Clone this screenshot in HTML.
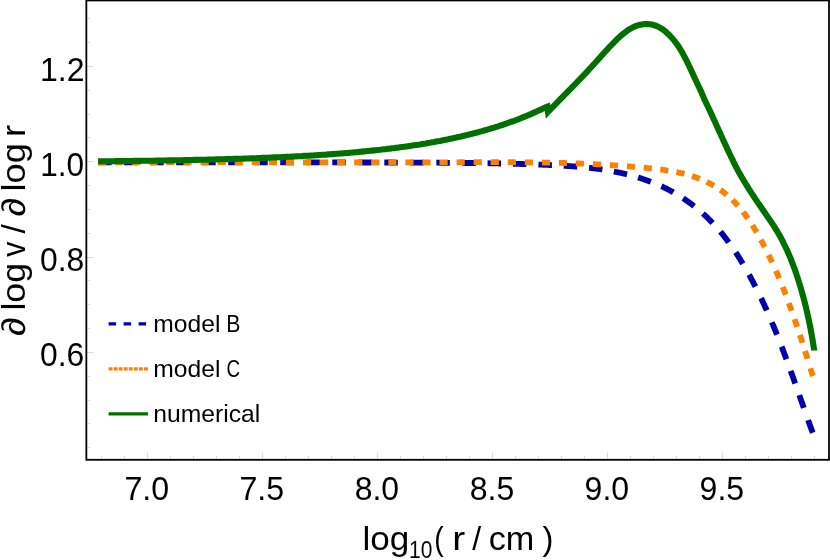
<!DOCTYPE html>
<html><head><meta charset="utf-8"><title>plot</title>
<style>
html,body{margin:0;padding:0;background:#fff;}
body{width:830px;height:560px;overflow:hidden;font-family:"Liberation Sans", sans-serif;}
svg{display:block;will-change:transform;}
text{font-family:"Liberation Sans", sans-serif;fill:#000;font-kerning:none;}
</style></head><body>
<svg width="830" height="560" viewBox="0 0 830 560">
<rect x="0" y="0" width="830" height="560" fill="#fff"/>
<g stroke="#c8c8c8" stroke-width="0.7" fill="none">
<line x1="101.5" y1="458.9" x2="101.5" y2="456.1"/>
<line x1="124.5" y1="458.9" x2="124.5" y2="456.1"/>
<line x1="147.5" y1="458.9" x2="147.5" y2="452.8"/>
<line x1="170.5" y1="458.9" x2="170.5" y2="456.1"/>
<line x1="193.5" y1="458.9" x2="193.5" y2="456.1"/>
<line x1="216.5" y1="458.9" x2="216.5" y2="456.1"/>
<line x1="239.5" y1="458.9" x2="239.5" y2="456.1"/>
<line x1="262.5" y1="458.9" x2="262.5" y2="452.8"/>
<line x1="285.5" y1="458.9" x2="285.5" y2="456.1"/>
<line x1="308.5" y1="458.9" x2="308.5" y2="456.1"/>
<line x1="331.5" y1="458.9" x2="331.5" y2="456.1"/>
<line x1="354.5" y1="458.9" x2="354.5" y2="456.1"/>
<line x1="377.5" y1="458.9" x2="377.5" y2="452.8"/>
<line x1="400.5" y1="458.9" x2="400.5" y2="456.1"/>
<line x1="423.5" y1="458.9" x2="423.5" y2="456.1"/>
<line x1="446.5" y1="458.9" x2="446.5" y2="456.1"/>
<line x1="469.5" y1="458.9" x2="469.5" y2="456.1"/>
<line x1="492.5" y1="458.9" x2="492.5" y2="452.8"/>
<line x1="515.5" y1="458.9" x2="515.5" y2="456.1"/>
<line x1="538.5" y1="458.9" x2="538.5" y2="456.1"/>
<line x1="561.5" y1="458.9" x2="561.5" y2="456.1"/>
<line x1="584.5" y1="458.9" x2="584.5" y2="456.1"/>
<line x1="607.5" y1="458.9" x2="607.5" y2="452.8"/>
<line x1="630.5" y1="458.9" x2="630.5" y2="456.1"/>
<line x1="653.5" y1="458.9" x2="653.5" y2="456.1"/>
<line x1="676.5" y1="458.9" x2="676.5" y2="456.1"/>
<line x1="699.5" y1="458.9" x2="699.5" y2="456.1"/>
<line x1="722.5" y1="458.9" x2="722.5" y2="452.8"/>
<line x1="745.5" y1="458.9" x2="745.5" y2="456.1"/>
<line x1="768.5" y1="458.9" x2="768.5" y2="456.1"/>
<line x1="791.5" y1="458.9" x2="791.5" y2="456.1"/>
<line x1="814.5" y1="458.9" x2="814.5" y2="456.1"/>
<line x1="87.2" y1="447.5" x2="90.0" y2="447.5"/>
<line x1="87.2" y1="423.5" x2="90.0" y2="423.5"/>
<line x1="87.2" y1="400.5" x2="90.0" y2="400.5"/>
<line x1="87.2" y1="376.5" x2="90.0" y2="376.5"/>
<line x1="87.2" y1="352.5" x2="93.7" y2="352.5"/>
<line x1="87.2" y1="328.5" x2="90.0" y2="328.5"/>
<line x1="87.2" y1="304.5" x2="90.0" y2="304.5"/>
<line x1="87.2" y1="280.5" x2="90.0" y2="280.5"/>
<line x1="87.2" y1="257.5" x2="93.7" y2="257.5"/>
<line x1="87.2" y1="233.5" x2="90.0" y2="233.5"/>
<line x1="87.2" y1="209.5" x2="90.0" y2="209.5"/>
<line x1="87.2" y1="185.5" x2="90.0" y2="185.5"/>
<line x1="87.2" y1="161.5" x2="93.7" y2="161.5"/>
<line x1="87.2" y1="137.5" x2="90.0" y2="137.5"/>
<line x1="87.2" y1="114.5" x2="90.0" y2="114.5"/>
<line x1="87.2" y1="90.5" x2="90.0" y2="90.5"/>
<line x1="87.2" y1="66.5" x2="93.7" y2="66.5"/>
<line x1="87.2" y1="42.5" x2="90.0" y2="42.5"/>
<line x1="87.2" y1="18.5" x2="90.0" y2="18.5"/>
</g>
<g fill="none" stroke-linecap="butt">
<path d="M98.1,162.3 L99.6,162.3 L101.1,162.3 L102.6,162.3 L104.1,162.3 L105.6,162.3 L107.1,162.3 L108.6,162.3 L110.1,162.3 L111.6,162.3 L113.1,162.3 L114.6,162.3 L116.1,162.3 L117.6,162.3 L119.1,162.3 L120.6,162.3 L122.1,162.3 L123.6,162.3 L125.1,162.3 L126.6,162.3 L128.1,162.3 L129.6,162.3 L131.1,162.3 L132.6,162.3 L134.1,162.3 L135.6,162.3 L137.1,162.3 L138.6,162.3 L140.1,162.3 L141.6,162.3 L143.1,162.3 L144.6,162.3 L146.1,162.3 L147.6,162.3 L149.1,162.3 L150.6,162.3 L152.1,162.3 L153.6,162.3 L155.1,162.3 L156.6,162.3 L158.1,162.3 L159.6,162.3 L161.1,162.3 L162.6,162.3 L164.1,162.3 L165.6,162.3 L167.1,162.3 L168.6,162.3 L170.1,162.3 L171.6,162.3 L173.1,162.3 L174.6,162.3 L176.1,162.3 L177.6,162.3 L179.1,162.3 L180.6,162.3 L182.1,162.3 L183.6,162.3 L185.1,162.3 L186.6,162.3 L188.1,162.3 L189.6,162.3 L191.1,162.3 L192.6,162.3 L194.1,162.3 L195.6,162.3 L197.1,162.3 L198.6,162.3 L200.1,162.3 L201.6,162.3 L203.1,162.3 L204.6,162.3 L206.1,162.3 L207.6,162.3 L209.1,162.3 L210.6,162.3 L212.1,162.3 L213.6,162.3 L215.1,162.3 L216.6,162.3 L218.1,162.3 L219.6,162.3 L221.1,162.3 L222.6,162.3 L224.1,162.3 L225.6,162.3 L227.1,162.3 L228.6,162.3 L230.1,162.3 L231.6,162.3 L233.1,162.3 L234.6,162.3 L236.1,162.3 L237.6,162.3 L239.1,162.3 L240.6,162.3 L242.1,162.3 L243.6,162.3 L245.1,162.3 L246.6,162.3 L248.1,162.3 L249.6,162.3 L251.1,162.3 L252.6,162.3 L254.1,162.3 L255.6,162.3 L257.1,162.3 L258.6,162.3 L260.1,162.3 L261.6,162.3 L263.1,162.3 L264.6,162.3 L266.1,162.3 L267.6,162.3 L269.1,162.3 L270.6,162.3 L272.1,162.3 L273.6,162.3 L275.1,162.3 L276.6,162.3 L278.1,162.3 L279.6,162.3 L281.1,162.3 L282.6,162.3 L284.1,162.3 L285.6,162.3 L287.1,162.3 L288.6,162.3 L290.1,162.3 L291.6,162.3 L293.1,162.3 L294.6,162.3 L296.1,162.3 L297.6,162.3 L299.1,162.3 L300.6,162.3 L302.1,162.3 L303.6,162.3 L305.1,162.3 L306.6,162.3 L308.1,162.3 L309.6,162.4 L311.1,162.4 L312.6,162.4 L314.1,162.4 L315.6,162.4 L317.1,162.4 L318.6,162.4 L320.1,162.4 L321.6,162.4 L323.1,162.4 L324.6,162.4 L326.1,162.4 L327.6,162.4 L329.1,162.4 L330.6,162.4 L332.1,162.4 L333.6,162.4 L335.1,162.4 L336.6,162.4 L338.1,162.4 L339.6,162.4 L341.1,162.4 L342.6,162.4 L344.1,162.4 L345.6,162.4 L347.1,162.4 L348.6,162.4 L350.1,162.4 L351.6,162.4 L353.1,162.4 L354.6,162.4 L356.1,162.4 L357.6,162.4 L359.1,162.4 L360.6,162.4 L362.1,162.4 L363.6,162.5 L365.1,162.5 L366.6,162.5 L368.1,162.5 L369.6,162.5 L371.1,162.5 L372.6,162.5 L374.1,162.5 L375.6,162.5 L377.1,162.5 L378.6,162.5 L380.1,162.5 L381.6,162.5 L383.1,162.5 L384.6,162.5 L386.1,162.5 L387.6,162.5 L389.1,162.5 L390.6,162.5 L392.1,162.5 L393.6,162.5 L395.1,162.6 L396.6,162.6 L398.1,162.6 L399.6,162.6 L401.1,162.6 L402.6,162.6 L404.1,162.6 L405.6,162.6 L407.1,162.6 L408.6,162.6 L410.1,162.6 L411.6,162.6 L413.1,162.6 L414.6,162.6 L416.1,162.6 L417.6,162.6 L419.1,162.6 L420.6,162.7 L422.1,162.7 L423.6,162.7 L425.1,162.7 L426.6,162.7 L428.1,162.7 L429.6,162.7 L431.1,162.7 L432.6,162.7 L434.1,162.7 L435.6,162.7 L437.1,162.7 L438.6,162.7 L440.1,162.8 L441.6,162.8 L443.1,162.8 L444.6,162.8 L446.1,162.8 L447.6,162.8 L449.1,162.8 L450.6,162.8 L452.1,162.8 L453.6,162.8 L455.1,162.9 L456.6,162.9 L458.1,162.9 L459.6,162.9 L461.0,162.9 L462.5,162.9 L464.0,162.9 L465.5,163.0 L467.0,163.0 L468.5,163.0 L470.0,163.0 L471.5,163.0 L473.0,163.0 L474.5,163.1 L476.0,163.1 L477.5,163.1 L479.0,163.1 L480.5,163.1 L482.0,163.2 L483.5,163.2 L485.0,163.2 L486.5,163.2 L488.0,163.2 L489.5,163.3 L491.0,163.3 L492.5,163.3 L494.0,163.4 L495.5,163.4 L497.0,163.4 L498.5,163.4 L500.0,163.5 L501.5,163.5 L503.0,163.5 L504.5,163.6 L506.0,163.6 L507.5,163.6 L509.0,163.7 L510.5,163.7 L512.0,163.7 L513.5,163.8 L515.0,163.8 L516.5,163.9 L518.0,163.9 L519.5,163.9 L521.0,164.0 L522.5,164.0 L524.0,164.1 L525.5,164.1 L527.0,164.2 L528.5,164.2 L530.0,164.3 L531.5,164.3 L533.0,164.4 L534.5,164.4 L536.0,164.5 L537.5,164.5 L539.0,164.6 L540.5,164.6 L542.0,164.7 L543.5,164.8 L545.0,164.8 L546.5,164.9 L548.1,164.9 L549.6,165.0 L551.1,165.1 L552.6,165.1 L554.1,165.2 L555.6,165.3 L557.1,165.4 L558.6,165.4 L560.1,165.5 L561.6,165.6 L563.1,165.7 L564.6,165.8 L566.1,165.9 L567.6,166.0 L569.1,166.1 L570.6,166.2 L572.1,166.3 L573.6,166.4 L575.1,166.5 L576.6,166.6 L578.1,166.7 L579.6,166.9 L581.1,167.0 L582.6,167.1 L584.1,167.3 L585.6,167.4 L587.1,167.6 L588.6,167.8 L590.1,167.9 L591.6,168.1 L593.0,168.3 L594.5,168.4 L596.0,168.6 L597.5,168.8 L599.0,169.0 L600.5,169.2 L602.0,169.5 L603.5,169.7 L604.9,169.9 L606.4,170.2 L607.9,170.4 L609.4,170.7 L610.9,170.9 L612.3,171.2 L613.8,171.5 L615.3,171.8 L616.8,172.0 L618.2,172.4 L619.7,172.7 L621.2,173.0 L622.6,173.3 L624.1,173.7 L625.5,174.0 L627.0,174.4 L628.5,174.7 L629.9,175.1 L631.4,175.5 L632.8,175.9 L634.3,176.3 L635.7,176.7 L637.1,177.1 L638.6,177.6 L640.0,178.0 L641.4,178.5 L642.9,179.0 L644.3,179.4 L645.7,179.9 L647.1,180.4 L648.5,180.9 L649.9,181.5 L651.3,182.0 L652.7,182.5 L654.1,183.1 L655.5,183.7 L656.9,184.2 L658.3,184.8 L659.6,185.4 L661.0,186.1 L662.4,186.7 L663.7,187.3 L665.1,188.0 L666.4,188.6 L667.7,189.3 L669.1,190.0 L670.4,190.7 L671.7,191.4 L673.0,192.1 L674.3,192.9 L675.6,193.6 L676.9,194.4 L678.2,195.1 L679.5,195.9 L680.7,196.7 L682.0,197.5 L683.2,198.3 L684.5,199.2 L685.7,200.0 L686.9,200.8 L688.2,201.7 L689.4,202.6 L690.6,203.5 L691.8,204.4 L693.0,205.3 L694.1,206.2 L695.3,207.1 L696.5,208.0 L697.6,209.0 L698.8,209.9 L699.9,210.9 L701.1,211.9 L702.2,212.9 L703.3,213.9 L704.4,214.9 L705.5,215.9 L706.6,216.9 L707.7,218.0 L708.7,219.0 L709.8,220.1 L710.8,221.1 L711.9,222.2 L712.9,223.3 L713.9,224.4 L714.9,225.5 L715.9,226.6 L716.9,227.7 L717.9,228.8 L718.9,229.9 L719.9,231.1 L720.8,232.2 L721.8,233.4 L722.7,234.5 L723.7,235.7 L724.6,236.9 L725.5,238.1 L726.4,239.3 L727.3,240.5 L728.2,241.7 L729.1,242.9 L730.0,244.1 L730.9,245.3 L731.7,246.5 L732.6,247.8 L733.5,249.0 L734.3,250.2 L735.1,251.5 L736.0,252.8 L736.8,254.0 L737.6,255.3 L738.4,256.6 L739.2,257.8 L740.0,259.1 L740.8,260.4 L741.6,261.7 L742.4,263.0 L743.2,264.3 L743.9,265.6 L744.7,266.9 L745.5,268.2 L746.2,269.5 L747.0,270.8 L747.7,272.1 L748.4,273.4 L749.2,274.8 L749.9,276.1 L750.6,277.4 L751.3,278.7 L752.0,280.1 L752.7,281.4 L753.4,282.7 L754.1,284.1 L754.8,285.4 L755.5,286.8 L756.2,288.1 L756.9,289.4 L757.5,290.8 L758.2,292.1 L758.9,293.5 L759.5,294.8 L760.2,296.2 L760.8,297.5 L761.5,298.9 L762.1,300.3 L762.7,301.6 L763.4,303.0 L764.0,304.3 L764.6,305.7 L765.2,307.1 L765.9,308.4 L766.5,309.8 L767.1,311.2 L767.7,312.5 L768.3,313.9 L768.9,315.3 L769.5,316.7 L770.1,318.0 L770.7,319.4 L771.3,320.8 L771.9,322.2 L772.4,323.6 L773.0,324.9 L773.6,326.3 L774.2,327.7 L774.7,329.1 L775.3,330.5 L775.9,331.9 L776.4,333.3 L777.0,334.7 L777.5,336.0 L778.1,337.4 L778.6,338.8 L779.2,340.2 L779.7,341.6 L780.3,343.0 L780.8,344.4 L781.3,345.8 L781.9,347.2 L782.4,348.6 L782.9,350.0 L783.5,351.4 L784.0,352.8 L784.5,354.2 L785.1,355.6 L785.6,357.0 L786.1,358.4 L786.6,359.8 L787.1,361.2 L787.7,362.6 L788.2,364.1 L788.7,365.5 L789.2,366.9 L789.7,368.3 L790.2,369.7 L790.7,371.1 L791.2,372.5 L791.7,373.9 L792.3,375.3 L792.8,376.7 L793.3,378.2 L793.8,379.6 L794.3,381.0 L794.8,382.4 L795.3,383.8 L795.8,385.2 L796.3,386.6 L796.8,388.0 L797.3,389.5 L797.8,390.9 L798.3,392.3 L798.8,393.7 L799.3,395.1 L799.8,396.5 L800.3,397.9 L800.8,399.4 L801.3,400.8 L801.8,402.2 L802.3,403.6 L802.8,405.0 L803.3,406.4 L803.8,407.8 L804.3,409.3 L804.8,410.7 L805.3,412.1 L805.8,413.5 L806.3,414.9 L806.8,416.3 L807.3,417.7 L807.8,419.2 L808.3,420.6 L808.8,422.0 L809.3,423.4 L809.8,424.8 L810.3,426.2 L810.8,427.6 L811.3,429.0 L811.9,430.4 L812.4,431.9 L812.9,433.3 L812.9,433.4" stroke="#0000aa" stroke-width="5.8" stroke-dasharray="13.50 12.52 13.50 12.52 13.50 12.52 13.50 12.52 13.50 12.52 13.50 12.52 13.50 12.52 13.50 12.52 13.50 12.52 13.50 12.52 13.50 12.52 13.50 12.52 13.50 12.52 13.50 12.52 13.50 11.73 13.50 11.95 13.50 11.94 13.50 11.90 13.50 11.80 13.50 11.65 13.50 11.50 13.50 11.39 13.50 11.38 13.50 11.52 13.50 11.80 13.50 12.17 13.50 12.56 13.50 12.84 13.50 12.92 13.50 12.75 13.50 12.41 13.50 12.26 13.50 13.01 13.50 9999.00" stroke-dashoffset="0" stroke-linejoin="round"/>
<path d="M98.1,162.3 L99.6,162.3 L101.1,162.3 L102.6,162.3 L104.1,162.3 L105.6,162.3 L107.1,162.3 L108.6,162.3 L110.1,162.3 L111.6,162.3 L113.1,162.3 L114.6,162.3 L116.1,162.3 L117.6,162.3 L119.1,162.3 L120.6,162.3 L122.1,162.2 L123.6,162.2 L125.1,162.2 L126.6,162.2 L128.1,162.2 L129.6,162.2 L131.1,162.2 L132.6,162.2 L134.1,162.2 L135.6,162.2 L137.1,162.2 L138.6,162.2 L140.1,162.2 L141.6,162.2 L143.1,162.2 L144.6,162.2 L146.1,162.2 L147.6,162.2 L149.1,162.2 L150.6,162.2 L152.1,162.2 L153.6,162.2 L155.1,162.2 L156.6,162.2 L158.1,162.2 L159.6,162.2 L161.1,162.2 L162.6,162.2 L164.1,162.2 L165.6,162.2 L167.1,162.2 L168.6,162.2 L170.1,162.2 L171.6,162.2 L173.1,162.2 L174.6,162.2 L176.1,162.2 L177.6,162.2 L179.1,162.2 L180.6,162.2 L182.1,162.2 L183.6,162.2 L185.1,162.2 L186.6,162.2 L188.1,162.2 L189.6,162.2 L191.1,162.2 L192.6,162.2 L194.1,162.2 L195.6,162.2 L197.1,162.2 L198.6,162.2 L200.1,162.2 L201.6,162.2 L203.1,162.2 L204.6,162.2 L206.1,162.2 L207.6,162.2 L209.1,162.2 L210.6,162.2 L212.1,162.2 L213.6,162.2 L215.1,162.2 L216.6,162.2 L218.1,162.2 L219.6,162.2 L221.1,162.2 L222.6,162.2 L224.1,162.2 L225.6,162.2 L227.1,162.2 L228.6,162.2 L230.1,162.2 L231.6,162.2 L233.1,162.2 L234.6,162.2 L236.1,162.2 L237.6,162.2 L239.1,162.2 L240.6,162.2 L242.1,162.2 L243.6,162.2 L245.1,162.2 L246.6,162.2 L248.1,162.2 L249.6,162.2 L251.1,162.2 L252.6,162.2 L254.1,162.2 L255.6,162.2 L257.1,162.2 L258.6,162.2 L260.1,162.2 L261.6,162.2 L263.1,162.2 L264.6,162.2 L266.1,162.2 L267.6,162.2 L269.1,162.2 L270.6,162.2 L272.1,162.2 L273.6,162.3 L275.1,162.3 L276.6,162.3 L278.1,162.3 L279.6,162.3 L281.1,162.3 L282.6,162.3 L284.1,162.3 L285.6,162.3 L287.1,162.3 L288.6,162.3 L290.1,162.3 L291.6,162.3 L293.1,162.3 L294.6,162.3 L296.1,162.3 L297.6,162.3 L299.1,162.3 L300.6,162.3 L302.1,162.3 L303.6,162.3 L305.1,162.3 L306.6,162.3 L308.1,162.3 L309.6,162.3 L311.1,162.3 L312.6,162.3 L314.1,162.3 L315.6,162.3 L317.1,162.3 L318.6,162.3 L320.1,162.3 L321.6,162.3 L323.1,162.3 L324.6,162.3 L326.1,162.3 L327.6,162.3 L329.1,162.3 L330.6,162.3 L332.1,162.3 L333.6,162.3 L335.1,162.3 L336.6,162.3 L338.1,162.3 L339.6,162.3 L341.1,162.3 L342.6,162.3 L344.1,162.3 L345.6,162.3 L347.1,162.3 L348.6,162.3 L350.1,162.3 L351.6,162.3 L353.1,162.3 L354.6,162.3 L356.1,162.3 L357.6,162.3 L359.1,162.3 L360.6,162.3 L362.1,162.3 L363.6,162.3 L365.1,162.3 L366.6,162.3 L368.1,162.3 L369.6,162.3 L371.1,162.3 L372.6,162.3 L374.1,162.3 L375.6,162.3 L377.1,162.3 L378.6,162.3 L380.1,162.3 L381.6,162.3 L383.1,162.3 L384.6,162.3 L386.1,162.3 L387.6,162.3 L389.1,162.3 L390.6,162.3 L392.1,162.3 L393.6,162.3 L395.1,162.3 L396.6,162.3 L398.1,162.3 L399.6,162.3 L401.1,162.3 L402.6,162.3 L404.1,162.3 L405.6,162.3 L407.1,162.3 L408.6,162.3 L410.1,162.3 L411.6,162.3 L413.1,162.3 L414.6,162.3 L416.1,162.3 L417.6,162.3 L419.1,162.3 L420.6,162.3 L422.1,162.3 L423.6,162.3 L425.1,162.3 L426.6,162.3 L428.1,162.3 L429.6,162.3 L431.1,162.3 L432.6,162.3 L434.1,162.3 L435.6,162.3 L437.1,162.3 L438.6,162.3 L440.1,162.3 L441.6,162.3 L443.1,162.3 L444.6,162.3 L446.1,162.3 L447.6,162.3 L449.1,162.3 L450.6,162.3 L452.1,162.3 L453.6,162.3 L455.1,162.3 L456.6,162.3 L458.1,162.3 L459.6,162.2 L461.1,162.2 L462.6,162.2 L464.1,162.2 L465.6,162.2 L467.1,162.2 L468.6,162.2 L470.1,162.2 L471.6,162.2 L473.1,162.2 L474.6,162.2 L476.1,162.2 L477.6,162.2 L479.1,162.2 L480.6,162.2 L482.1,162.2 L483.6,162.2 L485.1,162.2 L486.6,162.2 L488.1,162.2 L489.6,162.2 L491.1,162.2 L492.6,162.2 L494.1,162.2 L495.6,162.2 L497.1,162.2 L498.6,162.2 L500.1,162.2 L501.6,162.2 L503.1,162.2 L504.6,162.2 L506.1,162.2 L507.6,162.2 L509.1,162.2 L510.6,162.2 L512.1,162.2 L513.6,162.2 L515.1,162.3 L516.6,162.3 L518.1,162.3 L519.6,162.3 L521.1,162.3 L522.6,162.3 L524.1,162.3 L525.6,162.3 L527.1,162.3 L528.6,162.4 L530.1,162.4 L531.6,162.4 L533.1,162.4 L534.6,162.4 L536.1,162.4 L537.6,162.5 L539.1,162.5 L540.6,162.5 L542.1,162.5 L543.6,162.6 L545.1,162.6 L546.6,162.6 L548.1,162.6 L549.6,162.7 L551.1,162.7 L552.6,162.7 L554.1,162.8 L555.6,162.8 L557.1,162.8 L558.6,162.9 L560.1,162.9 L561.5,162.9 L563.0,163.0 L564.5,163.0 L566.0,163.1 L567.5,163.1 L569.0,163.2 L570.5,163.2 L572.0,163.3 L573.5,163.3 L575.0,163.4 L576.5,163.4 L578.0,163.5 L579.5,163.5 L581.0,163.6 L582.5,163.6 L584.0,163.7 L585.5,163.8 L587.0,163.8 L588.5,163.9 L590.0,164.0 L591.5,164.0 L593.0,164.1 L594.5,164.2 L596.0,164.3 L597.5,164.3 L599.0,164.4 L600.5,164.5 L602.0,164.6 L603.5,164.7 L605.0,164.7 L606.5,164.8 L608.0,164.9 L609.5,165.0 L611.0,165.1 L612.5,165.2 L614.0,165.3 L615.5,165.4 L617.0,165.5 L618.5,165.6 L620.0,165.7 L621.5,165.8 L623.0,165.9 L624.5,166.1 L626.0,166.2 L627.5,166.3 L629.0,166.4 L630.5,166.5 L632.0,166.7 L633.5,166.8 L635.0,166.9 L636.5,167.0 L638.0,167.2 L639.5,167.3 L641.0,167.5 L642.5,167.6 L644.0,167.7 L645.5,167.9 L647.0,168.0 L648.5,168.2 L650.0,168.3 L651.5,168.5 L653.0,168.7 L654.5,168.8 L656.0,169.0 L657.5,169.2 L659.0,169.4 L660.5,169.5 L662.0,169.7 L663.5,169.9 L664.9,170.1 L666.4,170.4 L667.9,170.6 L669.4,170.8 L670.9,171.1 L672.4,171.3 L673.8,171.6 L675.3,171.9 L676.8,172.2 L678.2,172.5 L679.7,172.8 L681.2,173.1 L682.6,173.4 L684.1,173.8 L685.5,174.2 L686.9,174.6 L688.4,175.0 L689.8,175.4 L691.2,175.8 L692.6,176.3 L694.1,176.7 L695.5,177.2 L696.9,177.7 L698.3,178.2 L699.7,178.8 L701.0,179.4 L702.4,179.9 L703.8,180.5 L705.2,181.2 L706.5,181.8 L707.8,182.5 L709.2,183.1 L710.5,183.8 L711.8,184.6 L713.1,185.3 L714.4,186.0 L715.7,186.8 L717.0,187.6 L718.2,188.4 L719.4,189.3 L720.7,190.1 L721.9,191.0 L723.1,191.9 L724.3,192.8 L725.4,193.7 L726.6,194.7 L727.7,195.7 L728.9,196.6 L730.0,197.7 L731.1,198.7 L732.1,199.7 L733.2,200.8 L734.3,201.8 L735.3,202.9 L736.3,204.0 L737.3,205.1 L738.3,206.3 L739.3,207.4 L740.3,208.5 L741.3,209.7 L742.2,210.9 L743.1,212.1 L744.1,213.3 L745.0,214.5 L745.9,215.7 L746.8,216.9 L747.6,218.1 L748.5,219.3 L749.3,220.6 L750.2,221.8 L751.0,223.1 L751.8,224.3 L752.6,225.6 L753.4,226.9 L754.2,228.2 L755.0,229.5 L755.8,230.7 L756.5,232.0 L757.3,233.3 L758.0,234.6 L758.8,236.0 L759.5,237.3 L760.2,238.6 L760.9,239.9 L761.6,241.2 L762.4,242.6 L763.1,243.9 L763.7,245.2 L764.4,246.6 L765.1,247.9 L765.8,249.2 L766.5,250.6 L767.1,251.9 L767.8,253.3 L768.5,254.6 L769.1,256.0 L769.8,257.3 L770.4,258.7 L771.0,260.0 L771.7,261.4 L772.3,262.7 L772.9,264.1 L773.6,265.5 L774.2,266.8 L774.8,268.2 L775.4,269.6 L776.0,270.9 L776.6,272.3 L777.2,273.7 L777.8,275.1 L778.4,276.4 L778.9,277.8 L779.5,279.2 L780.1,280.6 L780.7,282.0 L781.2,283.4 L781.8,284.8 L782.4,286.1 L782.9,287.5 L783.5,288.9 L784.0,290.3 L784.6,291.7 L785.1,293.1 L785.6,294.5 L786.2,295.9 L786.7,297.3 L787.2,298.7 L787.8,300.1 L788.3,301.5 L788.8,302.9 L789.3,304.3 L789.8,305.7 L790.3,307.2 L790.9,308.6 L791.4,310.0 L791.9,311.4 L792.4,312.8 L792.9,314.2 L793.4,315.6 L793.9,317.0 L794.3,318.5 L794.8,319.9 L795.3,321.3 L795.8,322.7 L796.3,324.1 L796.8,325.6 L797.2,327.0 L797.7,328.4 L798.2,329.8 L798.7,331.3 L799.1,332.7 L799.6,334.1 L800.1,335.5 L800.5,337.0 L801.0,338.4 L801.5,339.8 L801.9,341.2 L802.4,342.7 L802.8,344.1 L803.3,345.5 L803.8,347.0 L804.2,348.4 L804.7,349.8 L805.1,351.3 L805.6,352.7 L806.0,354.1 L806.5,355.5 L806.9,357.0 L807.4,358.4 L807.8,359.8 L808.3,361.3 L808.7,362.7 L809.2,364.1 L809.6,365.6 L810.1,367.0 L810.5,368.4 L810.9,369.9 L811.4,371.3 L811.8,372.7 L812.3,374.2 L812.7,375.6 L813.2,377.0 L813.3,377.5" stroke="#ff8000" stroke-width="5.8" stroke-dasharray="8.20 8.87 8.20 8.87 8.20 8.87 8.20 8.87 8.20 8.87 8.20 8.87 8.20 8.87 8.20 8.87 8.20 8.87 8.20 8.87 8.20 8.87 8.20 8.87 8.20 8.87 8.20 8.87 8.20 8.87 8.20 8.87 8.20 8.87 8.20 8.87 8.20 8.87 8.20 8.87 8.20 8.87 8.20 8.87 8.20 8.87 8.20 8.87 8.20 8.87 8.20 8.87 8.20 8.75 8.20 8.79 8.20 8.86 8.20 8.89 8.20 8.84 8.20 8.69 8.20 8.45 8.20 8.17 8.20 7.89 8.20 7.67 8.20 7.57 8.20 7.61 8.20 7.81 8.20 8.14 8.20 8.54 8.20 8.93 8.20 9.21 8.20 9.29 8.20 9.14 8.20 8.80 8.20 8.48 8.20 8.61 8.20 9.96 8.20 9999.00" stroke-dashoffset="0" stroke-linejoin="round"/>
<path d="M98.1,161.3 L100.1,161.3 L102.1,161.3 L104.1,161.3 L106.1,161.2 L108.1,161.2 L110.1,161.2 L112.1,161.2 L114.1,161.2 L116.1,161.1 L118.1,161.1 L120.1,161.1 L122.1,161.1 L124.1,161.0 L126.1,161.0 L128.1,161.0 L130.1,161.0 L132.1,161.0 L134.1,160.9 L136.1,160.9 L138.1,160.9 L140.1,160.9 L142.1,160.8 L144.1,160.8 L146.1,160.8 L148.1,160.7 L150.1,160.7 L152.1,160.7 L154.1,160.7 L156.1,160.6 L158.1,160.6 L160.1,160.6 L162.1,160.5 L164.1,160.5 L166.1,160.5 L168.1,160.4 L170.1,160.4 L172.1,160.4 L174.1,160.3 L176.1,160.3 L178.1,160.3 L180.1,160.2 L182.1,160.2 L184.1,160.1 L186.1,160.1 L188.1,160.1 L190.1,160.0 L192.1,160.0 L194.1,159.9 L196.1,159.9 L198.1,159.9 L200.1,159.8 L202.1,159.8 L204.1,159.7 L206.1,159.7 L208.1,159.6 L210.1,159.6 L212.1,159.5 L214.1,159.5 L216.1,159.4 L218.1,159.4 L220.1,159.3 L222.1,159.3 L224.1,159.2 L226.1,159.1 L228.1,159.1 L230.1,159.0 L232.1,159.0 L234.1,158.9 L236.1,158.9 L238.1,158.8 L240.1,158.7 L242.1,158.7 L244.1,158.6 L246.1,158.5 L248.1,158.5 L250.1,158.4 L252.1,158.3 L254.1,158.2 L256.1,158.2 L258.1,158.1 L260.1,158.0 L262.1,157.9 L264.1,157.9 L266.1,157.8 L268.1,157.7 L270.1,157.6 L272.1,157.5 L274.1,157.4 L276.1,157.4 L278.1,157.3 L280.1,157.2 L282.1,157.1 L284.1,157.0 L286.1,156.9 L288.1,156.8 L290.1,156.7 L292.1,156.6 L294.1,156.5 L296.1,156.4 L298.1,156.3 L300.1,156.2 L302.1,156.1 L304.1,155.9 L306.1,155.8 L308.1,155.7 L310.1,155.6 L312.1,155.5 L314.1,155.4 L316.1,155.2 L318.1,155.1 L320.1,155.0 L322.1,154.8 L324.1,154.7 L326.1,154.6 L328.1,154.4 L330.1,154.3 L332.1,154.1 L334.1,154.0 L336.1,153.8 L338.1,153.7 L340.1,153.5 L342.1,153.4 L344.1,153.2 L346.1,153.0 L348.1,152.9 L350.1,152.7 L352.1,152.5 L354.1,152.4 L356.1,152.2 L358.1,152.0 L360.1,151.8 L362.1,151.6 L364.1,151.4 L366.1,151.2 L368.1,151.0 L370.1,150.8 L372.1,150.6 L374.1,150.4 L376.1,150.2 L378.1,150.0 L380.1,149.8 L382.1,149.5 L384.1,149.3 L386.1,149.1 L388.1,148.8 L390.1,148.6 L392.1,148.3 L394.1,148.1 L396.1,147.8 L398.1,147.6 L400.1,147.3 L402.1,147.0 L404.1,146.8 L406.1,146.5 L408.1,146.2 L410.1,145.9 L412.1,145.6 L414.1,145.3 L416.1,145.0 L418.1,144.7 L420.1,144.4 L422.1,144.0 L424.1,143.7 L426.1,143.4 L428.1,143.0 L430.1,142.7 L432.1,142.3 L434.1,142.0 L436.1,141.6 L438.1,141.2 L440.1,140.9 L442.1,140.5 L444.1,140.1 L446.1,139.7 L448.1,139.3 L450.1,138.8 L452.1,138.4 L454.1,138.0 L456.1,137.6 L458.1,137.1 L460.1,136.7 L462.1,136.2 L464.1,135.7 L466.1,135.2 L468.1,134.8 L470.1,134.3 L472.1,133.8 L474.1,133.2 L476.1,132.7 L478.1,132.2 L480.1,131.6 L482.1,131.1 L484.1,130.5 L486.1,130.0 L488.1,129.4 L490.1,128.8 L492.1,128.2 L494.1,127.6 L496.1,126.9 L498.1,126.3 L500.1,125.6 L502.1,125.0 L504.1,124.3 L506.1,123.6 L508.1,122.9 L510.1,122.2 L512.1,121.5 L514.1,120.8 L516.1,120.0 L518.1,119.3 L520.1,118.5 L522.1,117.7 L524.1,116.9 L526.1,116.1 L528.1,115.2 L530.1,114.4 L532.1,113.5 L534.1,112.6 L536.1,111.7 L538.1,110.8 L540.1,109.9 L542.1,109.0 L544.1,108.0 L546.1,107.0 L547.3,106.6 L548.0,111.9 L549.0,110.8 L550.0,109.8 L551.1,108.7 L552.1,107.6 L553.2,106.6 L554.2,105.5 L555.3,104.4 L556.3,103.3 L557.3,102.3 L558.4,101.2 L559.5,100.1 L560.5,99.0 L561.6,98.0 L562.6,96.9 L563.7,95.8 L564.7,94.7 L565.8,93.7 L566.8,92.6 L567.9,91.5 L569.0,90.4 L570.0,89.4 L571.1,88.3 L572.1,87.2 L573.2,86.1 L574.3,85.1 L575.3,84.0 L576.4,82.9 L577.4,81.8 L578.5,80.7 L579.5,79.7 L580.5,78.6 L581.6,77.5 L582.6,76.4 L583.6,75.3 L584.7,74.2 L585.7,73.2 L586.7,72.1 L587.7,71.0 L588.7,69.9 L589.7,68.8 L590.7,67.7 L591.7,66.6 L592.7,65.5 L593.7,64.4 L594.7,63.4 L595.7,62.3 L596.7,61.2 L597.7,60.1 L598.6,59.0 L599.6,57.9 L600.6,56.7 L601.6,55.6 L602.6,54.5 L603.6,53.4 L604.6,52.3 L605.7,51.2 L606.7,50.1 L607.7,49.0 L608.8,47.8 L609.8,46.7 L610.9,45.6 L612.0,44.5 L613.1,43.3 L614.2,42.2 L615.3,41.1 L616.4,39.9 L617.5,38.8 L618.7,37.7 L619.8,36.7 L621.0,35.6 L622.2,34.6 L623.4,33.6 L624.6,32.6 L625.9,31.7 L627.1,30.8 L628.4,29.9 L629.7,29.1 L631.0,28.4 L632.3,27.6 L633.6,27.0 L634.9,26.4 L636.3,25.9 L637.7,25.4 L639.1,25.0 L640.5,24.7 L641.9,24.4 L643.3,24.2 L644.7,24.1 L646.1,24.0 L647.6,24.1 L649.0,24.2 L650.4,24.3 L651.8,24.6 L653.2,24.9 L654.5,25.3 L655.9,25.7 L657.2,26.3 L658.5,26.9 L659.8,27.6 L661.0,28.3 L662.3,29.1 L663.5,30.0 L664.7,30.9 L665.9,31.9 L667.0,32.9 L668.1,33.9 L669.2,35.0 L670.3,36.1 L671.4,37.3 L672.4,38.4 L673.4,39.6 L674.4,40.8 L675.3,42.1 L676.3,43.3 L677.2,44.5 L678.0,45.8 L678.9,47.1 L679.7,48.3 L680.5,49.6 L681.3,50.9 L682.0,52.2 L682.8,53.5 L683.5,54.9 L684.2,56.2 L684.9,57.5 L685.6,58.8 L686.3,60.2 L687.0,61.5 L687.6,62.9 L688.3,64.2 L688.9,65.5 L689.6,66.9 L690.2,68.2 L690.8,69.6 L691.4,70.9 L692.1,72.3 L692.7,73.6 L693.3,75.0 L693.9,76.3 L694.5,77.6 L695.2,79.0 L695.8,80.3 L696.4,81.6 L697.1,83.0 L697.7,84.3 L698.3,85.6 L698.9,86.9 L699.6,88.3 L700.2,89.6 L700.8,90.9 L701.4,92.2 L701.9,93.6 L702.5,94.9 L703.1,96.2 L703.7,97.6 L704.2,98.9 L704.8,100.2 L705.5,101.6 L706.1,102.9 L706.8,104.3 L707.4,105.6 L708.1,107.0 L708.7,108.3 L709.3,109.7 L710.0,111.0 L710.6,112.4 L711.2,113.7 L711.9,115.1 L712.5,116.5 L713.1,117.8 L713.7,119.2 L714.4,120.5 L715.0,121.9 L715.6,123.3 L716.2,124.6 L716.8,126.0 L717.5,127.4 L718.1,128.8 L718.7,130.1 L719.3,131.5 L720.0,132.9 L720.6,134.3 L721.2,135.6 L721.9,137.0 L722.5,138.4 L723.1,139.8 L723.7,141.1 L724.4,142.5 L725.0,143.9 L725.6,145.3 L726.3,146.6 L726.9,148.0 L727.5,149.4 L728.2,150.7 L728.8,152.1 L729.5,153.5 L730.1,154.8 L730.8,156.2 L731.4,157.6 L732.1,158.9 L732.8,160.3 L733.4,161.6 L734.1,163.0 L734.8,164.3 L735.4,165.7 L736.1,167.0 L736.8,168.3 L737.5,169.7 L738.2,171.0 L738.9,172.3 L739.7,173.6 L740.4,174.9 L741.1,176.2 L741.9,177.5 L742.7,178.8 L743.4,180.1 L744.2,181.4 L745.0,182.7 L745.8,184.0 L746.6,185.3 L747.4,186.5 L748.2,187.8 L749.0,189.1 L749.8,190.3 L750.6,191.6 L751.4,192.9 L752.2,194.1 L753.1,195.4 L753.9,196.6 L754.7,197.9 L755.5,199.1 L756.4,200.4 L757.2,201.6 L758.1,202.9 L758.9,204.1 L759.8,205.3 L760.6,206.6 L761.5,207.8 L762.3,209.1 L763.2,210.3 L764.0,211.5 L764.9,212.8 L765.7,214.0 L766.6,215.2 L767.4,216.5 L768.3,217.7 L769.1,218.9 L770.0,220.2 L770.8,221.4 L771.7,222.7 L772.5,223.9 L773.3,225.2 L774.1,226.4 L774.9,227.7 L775.7,229.0 L776.5,230.2 L777.3,231.5 L778.0,232.8 L778.8,234.1 L779.5,235.4 L780.3,236.7 L781.0,238.0 L781.7,239.3 L782.4,240.6 L783.0,242.0 L783.7,243.3 L784.4,244.7 L785.0,246.0 L785.7,247.4 L786.3,248.7 L787.0,250.1 L787.6,251.5 L788.2,252.9 L788.8,254.2 L789.4,255.6 L790.0,257.0 L790.6,258.4 L791.1,259.8 L791.7,261.2 L792.2,262.6 L792.8,264.1 L793.3,265.5 L793.8,266.9 L794.4,268.3 L794.9,269.7 L795.4,271.2 L795.9,272.6 L796.4,274.0 L796.8,275.4 L797.3,276.9 L797.8,278.3 L798.2,279.7 L798.7,281.2 L799.1,282.6 L799.6,284.1 L800.0,285.5 L800.5,286.9 L800.9,288.4 L801.3,289.8 L801.7,291.3 L802.1,292.7 L802.5,294.2 L802.9,295.6 L803.3,297.1 L803.7,298.5 L804.1,300.0 L804.5,301.4 L804.8,302.9 L805.2,304.4 L805.6,305.8 L805.9,307.3 L806.3,308.8 L806.6,310.2 L807.0,311.7 L807.3,313.1 L807.6,314.6 L807.9,316.1 L808.3,317.6 L808.6,319.0 L808.9,320.5 L809.2,322.0 L809.5,323.4 L809.8,324.9 L810.1,326.4 L810.4,327.9 L810.7,329.3 L810.9,330.8 L811.2,332.3 L811.5,333.8 L811.8,335.3 L812.0,336.7 L812.3,338.2 L812.5,339.7 L812.8,341.2 L813.0,342.7 L813.2,344.1 L813.5,345.6 L813.7,347.1 L813.9,348.6 L814.2,350.1 L814.2,350.4" stroke="#007100" stroke-width="6.1" stroke-linejoin="miter" stroke-miterlimit="20"/>
</g>
<rect x="86.35" y="0.45" width="742.65" height="459.35" fill="none" stroke="#000" stroke-width="1.8"/>
<g fill="none" stroke-width="3.1">
<line x1="108.6" y1="323.85" x2="146.1" y2="323.85" stroke="#0000aa" stroke-dasharray="7.5 7.5"/>
<line x1="108.6" y1="368.85" x2="148.1" y2="368.85" stroke="#ff8000" stroke-dasharray="3.9 1.15"/>
<line x1="108.6" y1="413.85" x2="148.1" y2="413.85" stroke="#007100"/>
</g>
<text transform="translate(153.26,332.20) scale(1.0453,1)" font-size="23.6">model</text>
<text transform="translate(226.26,332.20) scale(0.8996,1)" font-size="23.6">B</text>
<text transform="translate(153.26,377.20) scale(1.0453,1)" font-size="23.6">model</text>
<text transform="translate(226.45,377.20) scale(0.7962,1)" font-size="23.6">C</text>
<text transform="translate(153.26,422.20) scale(1.0468,1)" font-size="23.6">numerical</text>
<text transform="translate(124.45,499.50) scale(0.9600,1)" font-size="33.5">7.0</text>
<text transform="translate(239.45,499.50) scale(0.9621,1)" font-size="33.5">7.5</text>
<text transform="translate(354.71,499.50) scale(0.9542,1)" font-size="33.5">8.0</text>
<text transform="translate(469.71,499.50) scale(0.9564,1)" font-size="33.5">8.5</text>
<text transform="translate(584.60,499.50) scale(0.9567,1)" font-size="33.5">9.0</text>
<text transform="translate(699.59,499.50) scale(0.9589,1)" font-size="33.5">9.5</text>
<text transform="translate(39.96,80.70) scale(0.9482,1)" font-size="33.8">1.2</text>
<text transform="translate(40.19,175.70) scale(0.9352,1)" font-size="33.8">1.0</text>
<text transform="translate(40.06,270.80) scale(0.9412,1)" font-size="33.8">0.8</text>
<text transform="translate(40.06,366.30) scale(0.9416,1)" font-size="33.8">0.6</text>
<text transform="translate(362.44,550.40) scale(1.0633,1)" font-size="33">log</text>
<text transform="translate(409.10,558.20) scale(0.8996,1)" font-size="23.3">10</text>
<text transform="translate(434.25,550.40) scale(0.8572,1)" font-size="33">(</text>
<text transform="translate(452.22,550.40) scale(1.1758,1)" font-size="33">r</text>
<text transform="translate(472.20,550.40) scale(0.9707,1)" font-size="33">/</text>
<text transform="translate(488.65,550.40) scale(1.0368,1)" font-size="33">cm</text>
<text transform="translate(542.41,550.40) scale(0.9943,1)" font-size="33">)</text>
<g transform="translate(25.4,0) rotate(-90)">
<text transform="translate(-336.04,0.00) scale(1.1541,1)" font-size="33" font-style="italic">∂</text>
<text transform="translate(-310.61,0.00) scale(1.0860,1)" font-size="33">log</text>
<text transform="translate(-256.70,0.00) scale(0.9217,1)" font-size="33">v</text>
<text transform="translate(-233.50,0.00) scale(1.0143,1)" font-size="33">/</text>
<text transform="translate(-216.44,0.00) scale(1.1541,1)" font-size="33" font-style="italic">∂</text>
<text transform="translate(-191.44,0.00) scale(1.0986,1)" font-size="33">log</text>
<text transform="translate(-137.12,0.00) scale(1.1030,1)" font-size="33">r</text>
</g>
</svg>
</body></html>
